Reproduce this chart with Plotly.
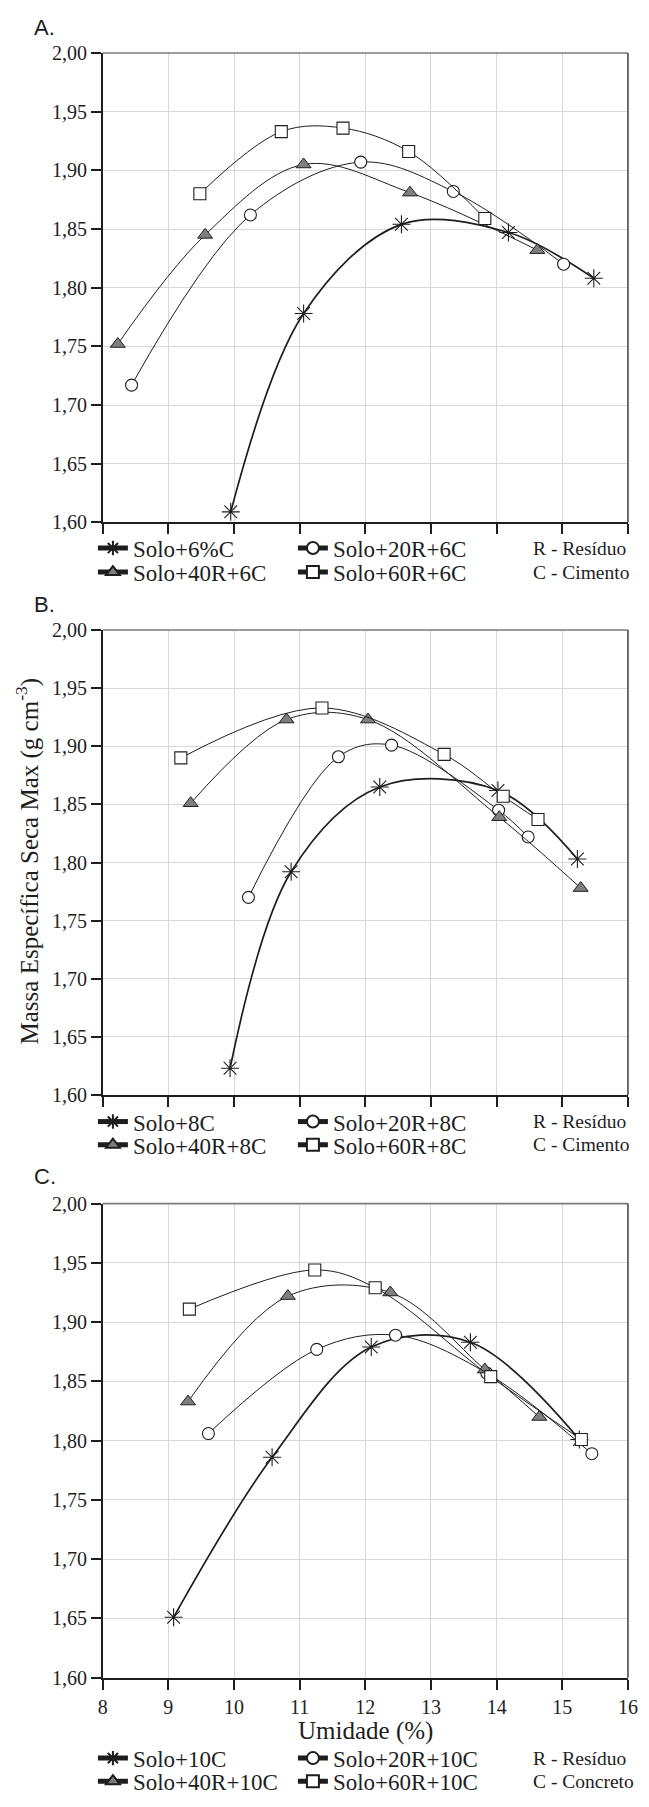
import plotly.graph_objects as go

# ---------------- data ----------------
# Panel A (6 % cement)
A_solo_x = [9.95, 11.06, 12.55, 14.18, 15.48]
A_solo_y = [1.609, 1.778, 1.854, 1.847, 1.808]
A_20R_x = [8.44, 10.25, 11.93, 13.34, 15.02]
A_20R_y = [1.717, 1.862, 1.907, 1.882, 1.820]
A_40R_x = [8.23, 9.56, 11.06, 12.68, 14.62]
A_40R_y = [1.752, 1.845, 1.905, 1.881, 1.832]
A_60R_x = [9.48, 10.72, 11.66, 12.66, 13.82]
A_60R_y = [1.880, 1.933, 1.936, 1.916, 1.859]

# Panel B (8 % cement)
B_solo_x = [9.94, 10.87, 12.22, 14.02, 15.23]
B_solo_y = [1.623, 1.792, 1.865, 1.862, 1.803]
B_20R_x = [10.22, 11.59, 12.40, 14.03, 14.48]
B_20R_y = [1.770, 1.891, 1.901, 1.845, 1.822]
B_40R_x = [9.34, 10.80, 12.04, 14.04, 15.28]
B_40R_y = [1.851, 1.923, 1.923, 1.839, 1.778]
B_60R_x = [9.19, 11.34, 13.20, 14.10, 14.63]
B_60R_y = [1.890, 1.933, 1.893, 1.857, 1.837]

# Panel C (10 % concrete)
C_solo_x = [9.08, 10.58, 12.09, 13.60, 15.26]
C_solo_y = [1.651, 1.786, 1.879, 1.883, 1.801]
C_20R_x = [9.61, 11.26, 12.46, 13.85, 15.45]
C_20R_y = [1.806, 1.877, 1.889, 1.857, 1.789]
C_40R_x = [9.30, 10.82, 12.38, 13.82, 14.65]
C_40R_y = [1.833, 1.922, 1.925, 1.860, 1.820]
C_60R_x = [9.32, 11.23, 12.15, 13.91, 15.29]
C_60R_y = [1.911, 1.944, 1.929, 1.854, 1.801]

names_A = ["Solo+6%C", "Solo+20R+6C", "Solo+40R+6C", "Solo+60R+6C"]
names_B = ["Solo+8C", "Solo+20R+8C", "Solo+40R+8C", "Solo+60R+8C"]
names_C = ["Solo+10C", "Solo+20R+10C", "Solo+40R+10C", "Solo+60R+10C"]

panel_labels = ["A.", "B.", "C."]
notes_row1 = ["R - Resíduo", "R - Resíduo", "R - Resíduo"]
notes_row2 = ["C - Cimento", "C - Cimento", "C - Concreto"]

x_title = "Umidade (%)"
y_title = "Massa Específica Seca Max (g cm<sup>-3</sup>)"

# ---------------- layout geometry (pixels) ----------------
W, H = 649, 1807
SERIF = "Liberation Serif, Times New Roman, serif"
SANS = "Liberation Sans, Arial, sans-serif"
INK = "#1e1e1e"

panels = [
    dict(top=42.5, bottom=517.7, row1=546.7, row2=571.0, label_y=16.7,
         data=[(A_solo_x, A_solo_y), (A_20R_x, A_20R_y), (A_40R_x, A_40R_y), (A_60R_x, A_60R_y)],
         names=names_A),
    dict(top=626.7, bottom=1097.3, row1=1127.3, row2=1150.7, label_y=601.0,
         data=[(B_solo_x, B_solo_y), (B_20R_x, B_20R_y), (B_40R_x, B_40R_y), (B_60R_x, B_60R_y)],
         names=names_B),
    dict(top=1207.3, bottom=1687.3, row1=1771.7, row2=1795.0, label_y=1180.3,
         data=[(C_solo_x, C_solo_y), (C_20R_x, C_20R_y), (C_40R_x, C_40R_y), (C_60R_x, C_60R_y)],
         names=names_C),
]
X0, X1 = 100.0, 637.7
ROW_SHIFT = -3.0


def px(x):
    return x / W


def py(y):
    return 1 - y / H


styles = [
    dict(marker=dict(symbol="asterisk-open", size=15, color=INK, line=dict(color=INK, width=1.1)),
         line=dict(color=INK, width=1.7, shape="spline", smoothing=1.0)),
    dict(marker=dict(symbol="circle", size=12, color="white", line=dict(color=INK, width=1.1)),
         line=dict(color=INK, width=1.0, shape="spline", smoothing=1.0)),
    dict(marker=dict(symbol="triangle-up", size=13, color="#7f7f7f", line=dict(color=INK, width=1.0)),
         line=dict(color=INK, width=1.0, shape="spline", smoothing=1.0)),
    dict(marker=dict(symbol="square", size=12, color="white", line=dict(color=INK, width=1.1)),
         line=dict(color=INK, width=1.0, shape="spline", smoothing=1.0)),
]

fig = go.Figure()
layout = dict(
    width=W, height=H,
    margin=dict(l=0, r=0, t=0, b=0),
    paper_bgcolor="white", plot_bgcolor="white",
    separators=",.",
    font=dict(family=SERIF, size=20, color=INK),
    annotations=[], shapes=[],
)

leg_count = 0
for i, p in enumerate(panels):
    k = "" if i == 0 else str(i + 1)
    xa, ya = "x" + k, "y" + k
    leg_names = []
    for r in range(2):
        leg_count += 1
        lname = "legend" if leg_count == 1 else "legend%d" % leg_count
        leg_names.append(lname)
        layout[lname] = dict(
            orientation="h", x=px(90), xanchor="left",
            y=py((p["row1"] if r == 0 else p["row2"]) + ROW_SHIFT), yanchor="middle",
            entrywidth=155, entrywidthmode="pixels",
            bgcolor="rgba(0,0,0,0)", borderwidth=0,
            font=dict(family=SERIF, size=23, color=INK),
            itemsizing="constant", traceorder="normal",
        )
    for j, (xs, ys) in enumerate(p["data"]):
        st = styles[j]
        fig.add_trace(go.Scatter(
            x=xs, y=ys, mode="lines+markers", name=p["names"][j],
            marker=st["marker"], line=st["line"],
            xaxis=xa, yaxis=ya,
            legend=leg_names[0] if j < 2 else leg_names[1],
        ))

    layout["xaxis" + k] = dict(
        domain=[px(X0), px(X1)], anchor=ya, range=[8, 16],
        tickmode="linear", tick0=8, dtick=1,
        showgrid=True, gridcolor="#d8d8d8", gridwidth=1,
        showline=True, linecolor=INK, linewidth=1.6,
        ticks="outside", ticklen=10, tickwidth=1.5, tickcolor=INK,
        showticklabels=(i == 2), tickfont=dict(family=SERIF, size=20, color=INK),
        zeroline=False, fixedrange=True,
    )
    layout["yaxis" + k] = dict(
        domain=[py(p["bottom"]), py(p["top"])], anchor=xa, range=[1.60, 2.00],
        tickmode="linear", tick0=1.60, dtick=0.05, tickformat=".2f",
        showgrid=True, gridcolor="#d8d8d8", gridwidth=1,
        showline=True, linecolor=INK, linewidth=1.6,
        ticks="outside", ticklen=10, tickwidth=1.5, tickcolor=INK,
        tickfont=dict(family=SERIF, size=20, color=INK),
        zeroline=False, fixedrange=True,
    )
    layout["shapes"].append(dict(type="line", xref=xa + " domain", yref=ya + " domain",
                                 x0=0, x1=1, y0=1, y1=1, line=dict(color="#7a7a7a", width=1.6)))
    layout["shapes"].append(dict(type="line", xref=xa + " domain", yref=ya + " domain",
                                 x0=1, x1=1, y0=0, y1=1, line=dict(color="#4a4a4a", width=1.6)))
    layout["annotations"].append(dict(
        text=panel_labels[i], xref="paper", yref="paper", x=px(28), y=py(p["label_y"]),
        xanchor="left", yanchor="middle", showarrow=False,
        font=dict(family=SANS, size=22, color=INK)))
    for r, txt in enumerate([notes_row1[i], notes_row2[i]]):
        layout["annotations"].append(dict(
            text=txt, xref="paper", yref="paper", x=px(538),
            y=py((p["row1"] if r == 0 else p["row2"]) + ROW_SHIFT),
            xanchor="left", yanchor="middle", showarrow=False,
            font=dict(family=SERIF, size=19.5, color=INK)))

layout["annotations"].append(dict(
    text=x_title, xref="paper", yref="paper", x=px((X0 + X1) / 2), y=py(1741.7),
    xanchor="center", yanchor="middle", showarrow=False,
    font=dict(family=SERIF, size=25, color=INK)))
layout["annotations"].append(dict(
    text=y_title, xref="paper", yref="paper", x=px(23.5), y=py(860),
    xanchor="center", yanchor="middle", showarrow=False, textangle=-90,
    font=dict(family=SERIF, size=25, color=INK)))

fig.update_layout(**layout)
fig.write_html("out.html", config={"displayModeBar": False},
               post_script="document.body.style.margin='0';document.body.style.overflow='hidden';")
